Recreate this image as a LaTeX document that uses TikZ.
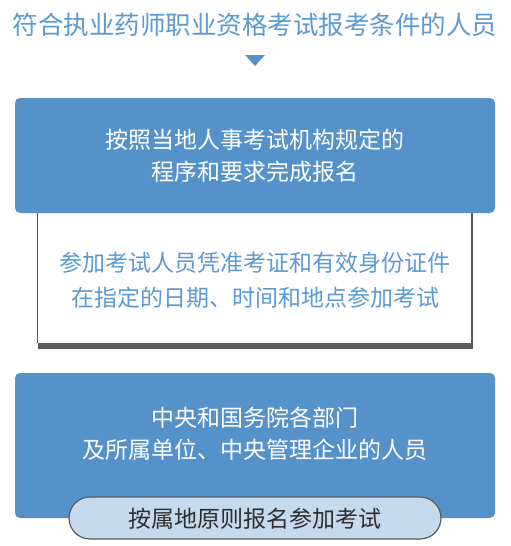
\documentclass[tikz,border=0pt]{standalone}
\usepackage{fontspec}
\setmainfont{Noto Sans CJK SC}
\newfontfamily\cjk{Noto Sans CJK SC}
\definecolor{boxblue}{HTML}{5692CA}
\definecolor{txtblue}{HTML}{5B9AD3}
\definecolor{pillfill}{HTML}{C6DAEE}
\definecolor{shadowgray}{HTML}{5A5A5A}
\definecolor{darktext}{HTML}{2E2E2E}
\tikzset{
  x=1pt, y=-1pt,
  bluebox/.style={fill=boxblue, rounded corners=5pt, inner sep=0pt, minimum width=480pt},
  txt/.style={align=center, font=\cjk\fontsize{23}{32}\selectfont, inner sep=0pt},
  whitebox/.style={fill=white, inner sep=0pt, minimum width=433pt},
  pill/.style={fill=pillfill, draw=shadowgray, line width=1.2pt, rounded corners=21pt, inner sep=0pt, minimum width=372pt, minimum height=42pt}
}
\begin{document}
\begin{tikzpicture}
\useasboundingbox (0,0) rectangle (511,546);
\fill[white] (0,0) rectangle (511,546);
% title
\node[txt, font=\cjk\fontsize{25.5}{30}\selectfont, text=txtblue] (title) at (255,25) {符合执业药师职业资格考试报考条件的人员};
% triangle
\fill[boxblue] (245,55) -- (265,55) -- (255,66) -- cycle;
% white box with shadow
\fill[shadowgray] (38,205) rectangle (472.5,349);
\node[whitebox, minimum height=138pt] (b2) at (254.5,274) {};
\draw[gray!70!black, line width=0.8pt] (b2.north west) -- (b2.south west);
\node[txt, text=txtblue, font=\cjk\fontsize{23}{35}\selectfont] (t2) at (255,280.5) {参加考试人员凭准考证和有效身份证件\\在指定的日期、时间和地点参加考试};
% blue box 1
\node[bluebox, minimum height=115pt] (b1) at (255,155.5) {};
\node[txt, text=white] (t1) at (255,156) {按照当地人事考试机构规定的\\程序和要求完成报名};
% blue box 3
\node[bluebox, minimum height=145pt] (b3) at (255,445.5) {};
\node[txt, text=white] (t3) at (255,434) {中央和国务院各部门\\及所属单位、中央管理企业的人员};
% pill
\node[pill] (p) at (255,518) {};
\node[txt, text=darktext] (tp) at (255,519) {按属地原则报名参加考试};
\end{tikzpicture}
\end{document}
